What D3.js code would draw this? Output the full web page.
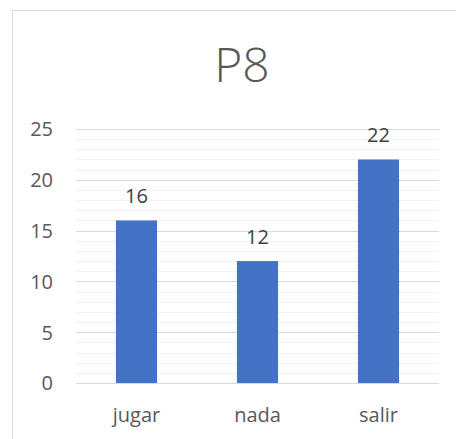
<!DOCTYPE html>
<html>
<head>
<meta charset="utf-8">
<script src="https://cdn.jsdelivr.net/npm/d3@7"></script>
<style>
  html, body { margin: 0; padding: 0; background: #fff; }
  svg { display: block; }
</style>
</head>
<body>
<svg id="chart" width="456" height="439"></svg>
<script>
// Chart data
const title = "P8";
const categories = ["jugar", "nada", "salir"];
const values = [16, 12, 22];
const yTicks = [0, 5, 10, 15, 20, 25];
const yMax = 25;

const svg = d3.select("#chart");
const font = "'Open Sans', 'Noto Sans', sans-serif";
const textColor = "#595959";

// Chart area frame (extends past the right and bottom edges)
svg.append("rect")
  .attr("x", 12.5).attr("y", 10.5)
  .attr("width", 460).attr("height", 440)
  .attr("fill", "#fff")
  .attr("stroke", "#d9d9d9").attr("stroke-width", 1);

const plot = { left: 76, right: 439, top: 129, bottom: 383 };

const x = d3.scaleBand()
  .domain(categories)
  .range([plot.left, plot.right])
  .paddingInner(0.66).paddingOuter(0.33);

const y = d3.scaleLinear()
  .domain([0, yMax])
  .range([plot.bottom, plot.top]);

// Minor gridlines at every unit
const minor = d3.range(1, yMax).filter(v => v % 5 !== 0);
svg.append("g").selectAll("line").data(minor).join("line")
  .attr("x1", plot.left).attr("x2", plot.right)
  .attr("y1", d => Math.round(y(d)) + 0.5).attr("y2", d => Math.round(y(d)) + 0.5)
  .attr("stroke", "#f2f2f2").attr("stroke-width", 1);

// Major gridlines
svg.append("g").selectAll("line").data(yTicks).join("line")
  .attr("x1", plot.left).attr("x2", plot.right)
  .attr("y1", d => Math.round(y(d)) + 0.5).attr("y2", d => Math.round(y(d)) + 0.5)
  .attr("stroke", "#d9d9d9").attr("stroke-width", 1);

// Y axis labels
const yAxis = d3.axisLeft(y).tickValues(yTicks).tickSize(0).tickPadding(0);
const gy = svg.append("g")
  .attr("transform", `translate(53,0)`)
  .call(yAxis);
gy.select(".domain").remove();
gy.selectAll("text")
  .attr("font-family", font).attr("font-size", 20)
  .attr("fill", textColor).attr("dy", "0.34em");

// Bars
svg.append("g").selectAll("rect").data(values).join("rect")
  .attr("x", (d, i) => x(categories[i]))
  .attr("width", x.bandwidth())
  .attr("y", d => y(d))
  .attr("height", d => y(0) - y(d))
  .attr("fill", "#4472c4");

// Value labels above bars
svg.append("g").selectAll("text").data(values).join("text")
  .attr("x", (d, i) => x(categories[i]) + x.bandwidth() / 2)
  .attr("y", d => y(d) - 17)
  .attr("text-anchor", "middle")
  .attr("font-family", font).attr("font-size", 20)
  .attr("fill", "#404040")
  .text(d => d);

// Category axis labels
const xAxis = d3.axisBottom(x).tickSize(0).tickPadding(0);
const gx = svg.append("g")
  .attr("transform", `translate(0,422)`)
  .call(xAxis);
gx.select(".domain").remove();
gx.selectAll("text")
  .attr("font-family", font).attr("font-size", 20)
  .attr("fill", textColor).attr("dy", 0);

// Title
svg.append("text")
  .attr("x", 242).attr("y", 82)
  .attr("text-anchor", "middle")
  .attr("font-family", font).attr("font-size", 48).attr("font-weight", 300)
  .attr("fill", textColor)
  .text(title);
</script>
</body>
</html>
